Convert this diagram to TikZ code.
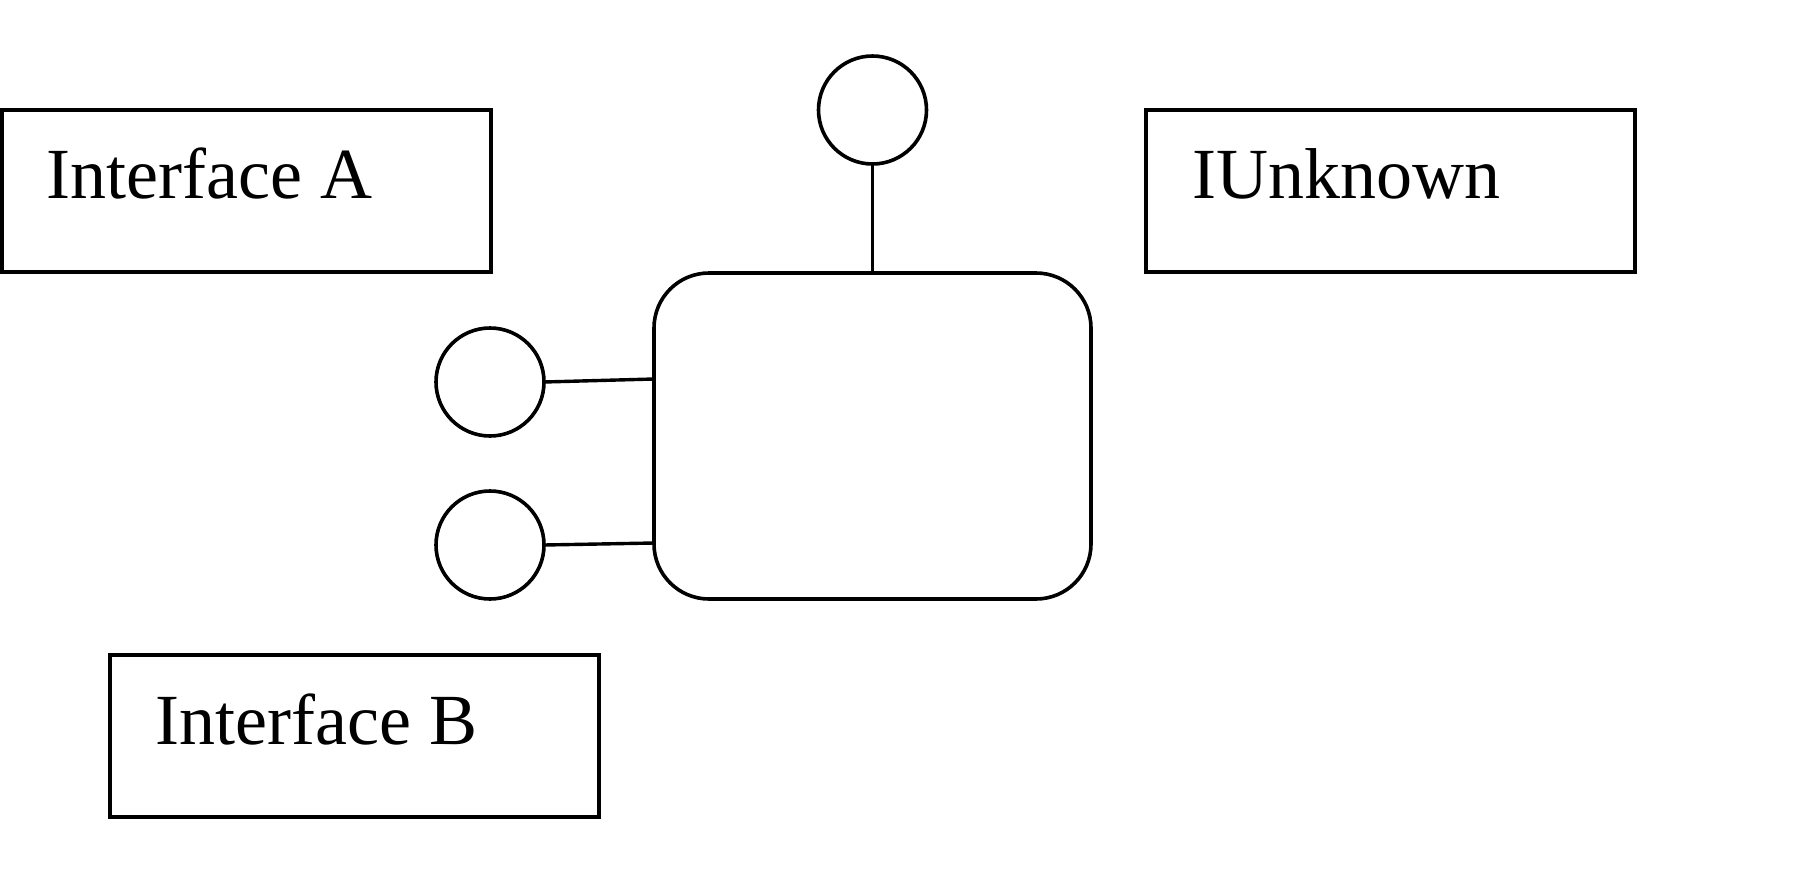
\documentclass[tikz,border=0pt]{standalone}
\usepackage{fontspec}
\setmainfont{Liberation Serif}
\begin{document}
\begin{tikzpicture}[x=1pt,y=-1pt,
  lbox/.style={draw,line width=3.8pt,minimum width=489pt,minimum height=162pt,inner sep=0pt,outer sep=0pt,anchor=north west},
  lbl/.style={font=\fontsize{72}{86}\selectfont,anchor=base west,inner sep=0pt},
  port/.style={draw,circle,line width=3.6pt,minimum size=108pt,inner sep=0pt,outer sep=0pt},
  comp/.style={draw,rounded corners=55pt,line width=3.6pt,minimum width=437pt,minimum height=326pt,inner sep=0pt,outer sep=0pt},
  wire/.style={line width=3.4pt}]
\useasboundingbox (0,0) rectangle (1800,873);
\node[lbox] (ba) at (1.9,110) {};
\node[lbl] (ta) at (46,198) {Interface A};
\node[lbox] (bu) at (1146,110) {};
\node[lbl] (tu) at (1192,198) {IUnknown};
\node[lbox] (bb) at (110,655) {};
\node[lbl] (tb) at (155,744) {Interface B};
\node[comp] (c) at (872.5,436) {};
\node[port] (p0) at (872.5,110) {};
\node[port] (p1) at (490,382) {};
\node[port] (p2) at (490,545) {};
\coordinate (c1) at (654,379);
\coordinate (c2) at (654,543);
\draw[wire] (p0.south) -- (c.north);
\draw[wire] (p1.east) -- (c1);
\draw[wire] (p2.east) -- (c2);
\end{tikzpicture}
\end{document}
